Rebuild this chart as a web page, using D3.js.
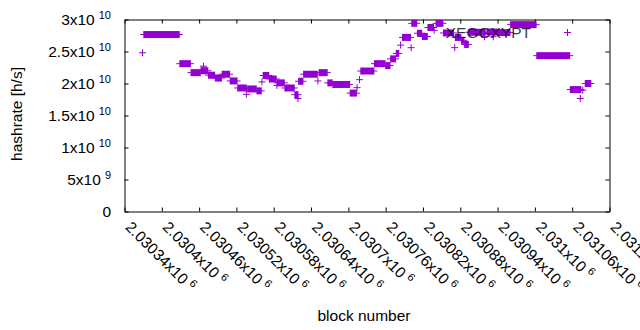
<!DOCTYPE html>
<html>
<meta charset="utf-8">
<style>
  body { margin: 0; background: #fff; }
  svg { display: block; }
  text { font-family: "Liberation Sans", Arial, sans-serif; fill: #000; }
  .axis path, .axis line { stroke: #000; stroke-width: 1; }
</style>
<body>
<script src="https://d3js.org/d3.v7.min.js"></script>
<script>
  // runs of consecutive blocks that share the same hashrate estimate
  let blockStart = [2030369, 2030371, 2030429, 2030447, 2030463, 2030467, 2030475, 2030486, 2030497, 2030510,
    2030522, 2030536, 2030538, 2030553, 2030561, 2030563, 2030573, 2030585, 2030586, 2030598,
    2030614, 2030619, 2030620, 2030628, 2030651, 2030653, 2030667, 2030675, 2030703, 2030714,
    2030718, 2030720, 2030742, 2030760, 2030768, 2030777, 2030784, 2030787, 2030801, 2030802,
    2030811, 2030819, 2030828, 2030838, 2030841, 2030853, 2030871, 2030872, 2030882, 2030887,
    2030894, 2030919, 2030923, 2030933, 2030940, 2030961, 2031003, 2031057, 2031073, 2031077,
    2031081];
  let blockEnd = [2030369, 2030428, 2030446, 2030462, 2030474, 2030467, 2030485, 2030496, 2030509, 2030521,
    2030536, 2030536, 2030552, 2030560, 2030561, 2030572, 2030584, 2030585, 2030597, 2030613,
    2030619, 2030619, 2030627, 2030650, 2030651, 2030666, 2030674, 2030702, 2030713, 2030714,
    2030718, 2030741, 2030759, 2030767, 2030776, 2030781, 2030784, 2030800, 2030801, 2030810,
    2030818, 2030827, 2030837, 2030838, 2030852, 2030869, 2030871, 2030881, 2030886, 2030893,
    2030920, 2030919, 2030939, 2030933, 2030960, 2031002, 2031056, 2031074, 2031073, 2031077,
    2031090];
  let hashrate = [2.48e10, 2.765e10, 2.31e10, 2.17e10, 2.20e10, 2.27e10, 2.13e10, 2.085e10, 2.145e10, 2.04e10,
    1.93e10, 1.83e10, 1.915e10, 1.885e10, 2.025e10, 2.125e10, 2.07e10, 1.97e10, 2.01e10, 1.93e10,
    1.825e10, 1.765e10, 2.035e10, 2.145e10, 2.04e10, 2.17e10, 2.01e10, 1.985e10, 1.85e10, 1.935e10,
    2.06e10, 2.195e10, 2.31e10, 2.28e10, 2.385e10, 2.47e10, 2.60e10, 2.72e10, 2.56e10, 2.94e10,
    2.785e10, 2.735e10, 2.875e10, 2.83e10, 2.94e10, 2.79e10, 2.56e10, 2.72e10, 2.675e10, 2.61e10,
    2.80e10, 2.73e10, 2.805e10, 2.73e10, 2.795e10, 2.92e10, 2.435e10, 1.905e10, 1.765e10, 1.895e10,
    2.00e10];

  let xTickValues = [2030340, 2030400, 2030460, 2030520, 2030580, 2030640, 2030700,
    2030760, 2030820, 2030880, 2030940, 2031000, 2031060, 2031120];
  let yTickValues = [0, 5e9, 1e10, 1.5e10, 2e10, 2.5e10, 3e10];
  let seriesName = "XEGGXYPT";

  let width = 640, height = 330;
  let plotLeft = 124.5, plotRight = 609.5, plotTop = 19.5, plotBottom = 211.5;
  let color = "#9400d3";
  let ps = 3.5; // half size of the "+" marker

  let svg = d3.select("body").append("svg")
    .attr("width", width)
    .attr("height", height);

  let x = d3.scaleLinear().domain([2030340, 2031120]).range([plotLeft, plotRight]);
  let y = d3.scaleLinear().domain([0, 3e10]).range([plotBottom, plotTop]);

  // mantissa "x10" and exponent, gnuplot style
  function sci(v) {
    if (v === 0) return ["0", ""];
    let e = Math.floor(Math.log10(v) + 1e-9);
    let m = +(v / Math.pow(10, e)).toPrecision(6);
    return [m + "x10", e];
  }

  // border + inward ticks, mirrored
  svg.append("g").attr("class", "axis")
    .attr("transform", `translate(0,${plotBottom})`)
    .call(d3.axisBottom(x).tickValues(xTickValues).tickSizeInner(-4).tickSizeOuter(0).tickFormat(""));
  svg.append("g").attr("class", "axis")
    .attr("transform", `translate(0,${plotTop})`)
    .call(d3.axisTop(x).tickValues(xTickValues).tickSizeInner(-4).tickSizeOuter(0).tickFormat(""));
  svg.append("g").attr("class", "axis")
    .attr("transform", `translate(${plotLeft},0)`)
    .call(d3.axisLeft(y).tickValues(yTickValues).tickSizeInner(-4).tickSizeOuter(0).tickFormat(""));
  svg.append("g").attr("class", "axis")
    .attr("transform", `translate(${plotRight},0)`)
    .call(d3.axisRight(y).tickValues(yTickValues).tickSizeInner(-4).tickSizeOuter(0).tickFormat(""));

  // y tick labels
  let yl = svg.append("g").selectAll("text")
    .data(yTickValues)
    .join("text")
    .attr("x", 111)
    .attr("y", d => y(d) + 5)
    .attr("text-anchor", "end")
    .attr("font-size", 15.5);
  yl.append("tspan").text(d => sci(d)[0]);
  yl.append("tspan").attr("dx", 4).attr("dy", -6).attr("font-size", 11).text(d => sci(d)[1]);

  // x tick labels, rotated
  let xl = svg.append("g").selectAll("text")
    .data(xTickValues)
    .join("text")
    .attr("transform", d => `translate(${x(d)},228) rotate(45)`)
    .attr("font-size", 15.5);
  xl.append("tspan").text(d => sci(d)[0]);
  xl.append("tspan").attr("dx", 4).attr("dy", -6).attr("font-size", 11).text(d => sci(d)[1]);

  // axis titles
  svg.append("text")
    .attr("transform", "translate(21.5,114) rotate(-90)")
    .attr("text-anchor", "middle")
    .attr("font-size", 15.5)
    .text("hashrate [h/s]");
  svg.append("text")
    .attr("x", 364)
    .attr("y", 320.5)
    .attr("text-anchor", "middle")
    .attr("font-size", 15.5)
    .text("block number");

  // points: each run of equal values is drawn as the union of its "+" markers
  let runs = d3.range(hashrate.length);
  let pts = svg.append("g");
  pts.selectAll("rect")
    .data(runs)
    .join("rect")
    .attr("x", i => x(blockStart[i]) - 0.5)
    .attr("width", i => x(blockEnd[i]) - x(blockStart[i]) + 1)
    .attr("y", i => y(hashrate[i]) - ps)
    .attr("height", ps * 2)
    .attr("fill", color);
  pts.selectAll("line")
    .data(runs)
    .join("line")
    .attr("x1", i => x(blockStart[i]) - ps)
    .attr("x2", i => x(blockEnd[i]) + ps)
    .attr("y1", i => y(hashrate[i]))
    .attr("y2", i => y(hashrate[i]))
    .attr("stroke", color)
    .attr("stroke-width", 1);

  // key text, on top of the points
  svg.append("text")
    .attr("x", 531)
    .attr("y", 37.5)
    .attr("text-anchor", "end")
    .attr("font-size", 15.5)
    .attr("fill-opacity", 0.8)
    .text(seriesName);

  // key sample
  let kx = 567.5, ky = 32.5;
  svg.append("path")
    .attr("d", `M${kx - ps},${ky}H${kx + ps}M${kx},${ky - ps}V${ky + ps}`)
    .attr("stroke", color)
    .attr("stroke-width", 1)
    .attr("fill", "none");
</script>
</body>
</html>
